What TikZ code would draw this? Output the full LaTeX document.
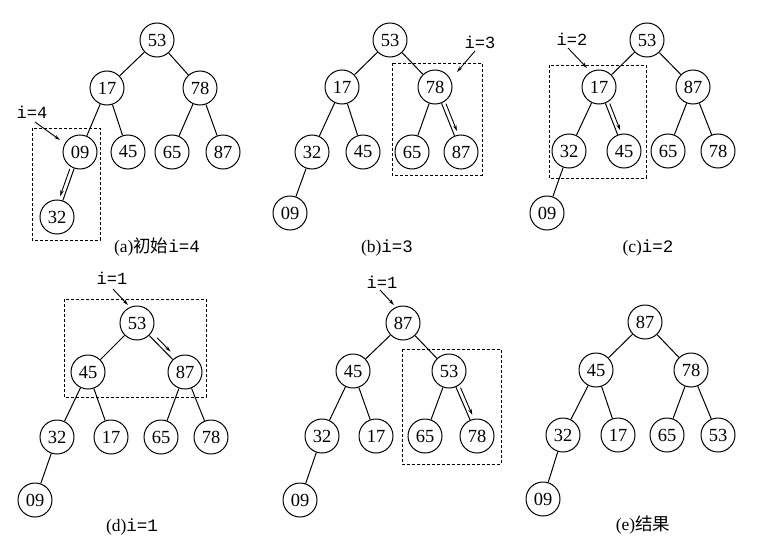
\documentclass[tikz,border=0pt]{standalone}
\usepackage{fontspec}
\setmainfont{Liberation Serif}
\setmonofont{Liberation Mono}
\newfontfamily\cjk{Noto Sans CJK SC}
\usetikzlibrary{calc,arrows.meta}
\tikzset{
  hnode/.style={circle,draw,line width=1pt,minimum size=34pt,inner sep=0pt,font=\fontsize{18.5}{18.5}\selectfont},
  edge/.style={line width=1pt},
  dashbox/.style={line width=0.9pt,dash pattern=on 3pt off 2pt},
  swaparr/.style={line width=0.9pt,-{Stealth[length=6pt,width=3.5pt]}},
  ptr/.style={line width=0.9pt,-{Stealth[length=6pt,width=3.5pt]}},
  ilabel/.style={font=\ttfamily\fontsize{17}{17}\selectfont,inner sep=0pt},
  caption/.style={font=\fontsize{17.5}{17.5}\selectfont,inner sep=0pt}
}
\newcommand\swaparrow[5]{\draw[swaparr] ($(#1)!#4!(#2)!4pt!#3:(#2)$) -- ($(#1)!#5!(#2)!4pt!#3:(#2)$);}
\begin{document}
\begin{tikzpicture}[x=1pt,y=-1pt]
\useasboundingbox (0,0) rectangle (762,543);
% panel a
\node[hnode] (A0) at (157,40) {53};
\node[hnode] (A1) at (107,88) {17};
\node[hnode] (A2) at (200,88) {78};
\node[hnode] (A3) at (80,152) {09};
\node[hnode] (A4) at (128,152) {45};
\node[hnode] (A5) at (172,152) {65};
\node[hnode] (A6) at (223,152) {87};
\node[hnode] (A7) at (57,217) {32};
% panel b
\node[hnode] (B0) at (390,40) {53};
\node[hnode] (B1) at (342,87) {17};
\node[hnode] (B2) at (435,87) {78};
\node[hnode] (B3) at (312,152) {32};
\node[hnode] (B4) at (363,152) {45};
\node[hnode] (B5) at (412,152) {65};
\node[hnode] (B6) at (461,152) {87};
\node[hnode] (B7) at (290,213) {09};
% panel c
\node[hnode] (C0) at (647,40) {53};
\node[hnode] (C1) at (599,87) {17};
\node[hnode] (C2) at (693,87) {87};
\node[hnode] (C3) at (569,151) {32};
\node[hnode] (C4) at (624,151) {45};
\node[hnode] (C5) at (668,151) {65};
\node[hnode] (C6) at (718,151) {78};
\node[hnode] (C7) at (547,213) {09};
% panel d
\node[hnode] (D0) at (137,323) {53};
\node[hnode] (D1) at (88,372) {45};
\node[hnode] (D2) at (185,372) {87};
\node[hnode] (D3) at (57,437) {32};
\node[hnode] (D4) at (111,437) {17};
\node[hnode] (D5) at (161,437) {65};
\node[hnode] (D6) at (211,437) {78};
\node[hnode] (D7) at (35,500) {09};
% panel 5
\node[hnode] (F0) at (403,323) {87};
\node[hnode] (F1) at (353,371) {45};
\node[hnode] (F2) at (449,371) {53};
\node[hnode] (F3) at (322,436) {32};
\node[hnode] (F4) at (376,436) {17};
\node[hnode] (F5) at (425,436) {65};
\node[hnode] (F6) at (477,436) {78};
\node[hnode] (F7) at (300,500) {09};
% panel e
\node[hnode] (E0) at (645,322) {87};
\node[hnode] (E1) at (596,370) {45};
\node[hnode] (E2) at (691,370) {78};
\node[hnode] (E3) at (563,435) {32};
\node[hnode] (E4) at (618,435) {17};
\node[hnode] (E5) at (667,435) {65};
\node[hnode] (E6) at (718,435) {53};
\node[hnode] (E7) at (543,499) {09};
% edges
\foreach \p in {A,B,C,D,E,F}{
  \draw[edge] (\p0)--(\p1) (\p0)--(\p2) (\p1)--(\p3) (\p1)--(\p4) (\p2)--(\p5) (\p2)--(\p6) (\p3)--(\p7);
}
% swap arrows
\swaparrow{A3}{A7}{-90}{0.28}{0.70}
\swaparrow{B2}{B6}{90}{0.28}{0.70}
\swaparrow{C1}{C4}{90}{0.28}{0.70}
\swaparrow{D0}{D2}{90}{0.36}{0.64}
\swaparrow{F2}{F6}{90}{0.28}{0.70}
% dashed boxes
\draw[dashbox] (32,128) rectangle (100,240);
\draw[dashbox] (392,63) rectangle (482,175);
\draw[dashbox] (549,65) rectangle (646,178);
\draw[dashbox] (64,299) rectangle (206,397);
\draw[dashbox] (402,349) rectangle (501,464);
% i labels and pointers
\node[ilabel] (La) at (32,112) {i=4};
\coordinate (Sa) at (35,122);
\coordinate (Pa) at (60,140);
\draw[ptr] (Sa) -- (Pa);
\node[ilabel] (Lb) at (480,42) {i=3};
\coordinate (Sb) at (475,51);
\coordinate (Pb) at (457,72);
\draw[ptr] (Sb) -- (Pb);
\node[ilabel] (Lc) at (572,39) {i=2};
\coordinate (Sc) at (568,48);
\coordinate (Pc) at (587,68);
\draw[ptr] (Sc) -- (Pc);
\node[ilabel] (Ld) at (112,278) {i=1};
\coordinate (Sd) at (113,289);
\coordinate (Pd) at (128,305);
\draw[ptr] (Sd) -- (Pd);
\node[ilabel] (Lf) at (382,282) {i=1};
\coordinate (Sf) at (380,290);
\coordinate (Pf) at (394,305);
\draw[ptr] (Sf) -- (Pf);
% captions
\node[caption] (Ca) at (157,247) {(a){\cjk 初始}\texttt{i=4}};
\node[caption] (Cb) at (387,248) {(b)\texttt{i=3}};
\node[caption] (Cc) at (648,248) {(c)\texttt{i=2}};
\node[caption] (Cd) at (132,527) {(d)\texttt{i=1}};
\node[caption] (Ce) at (643,525) {(e){\cjk 结果}};
\end{tikzpicture}
\end{document}
